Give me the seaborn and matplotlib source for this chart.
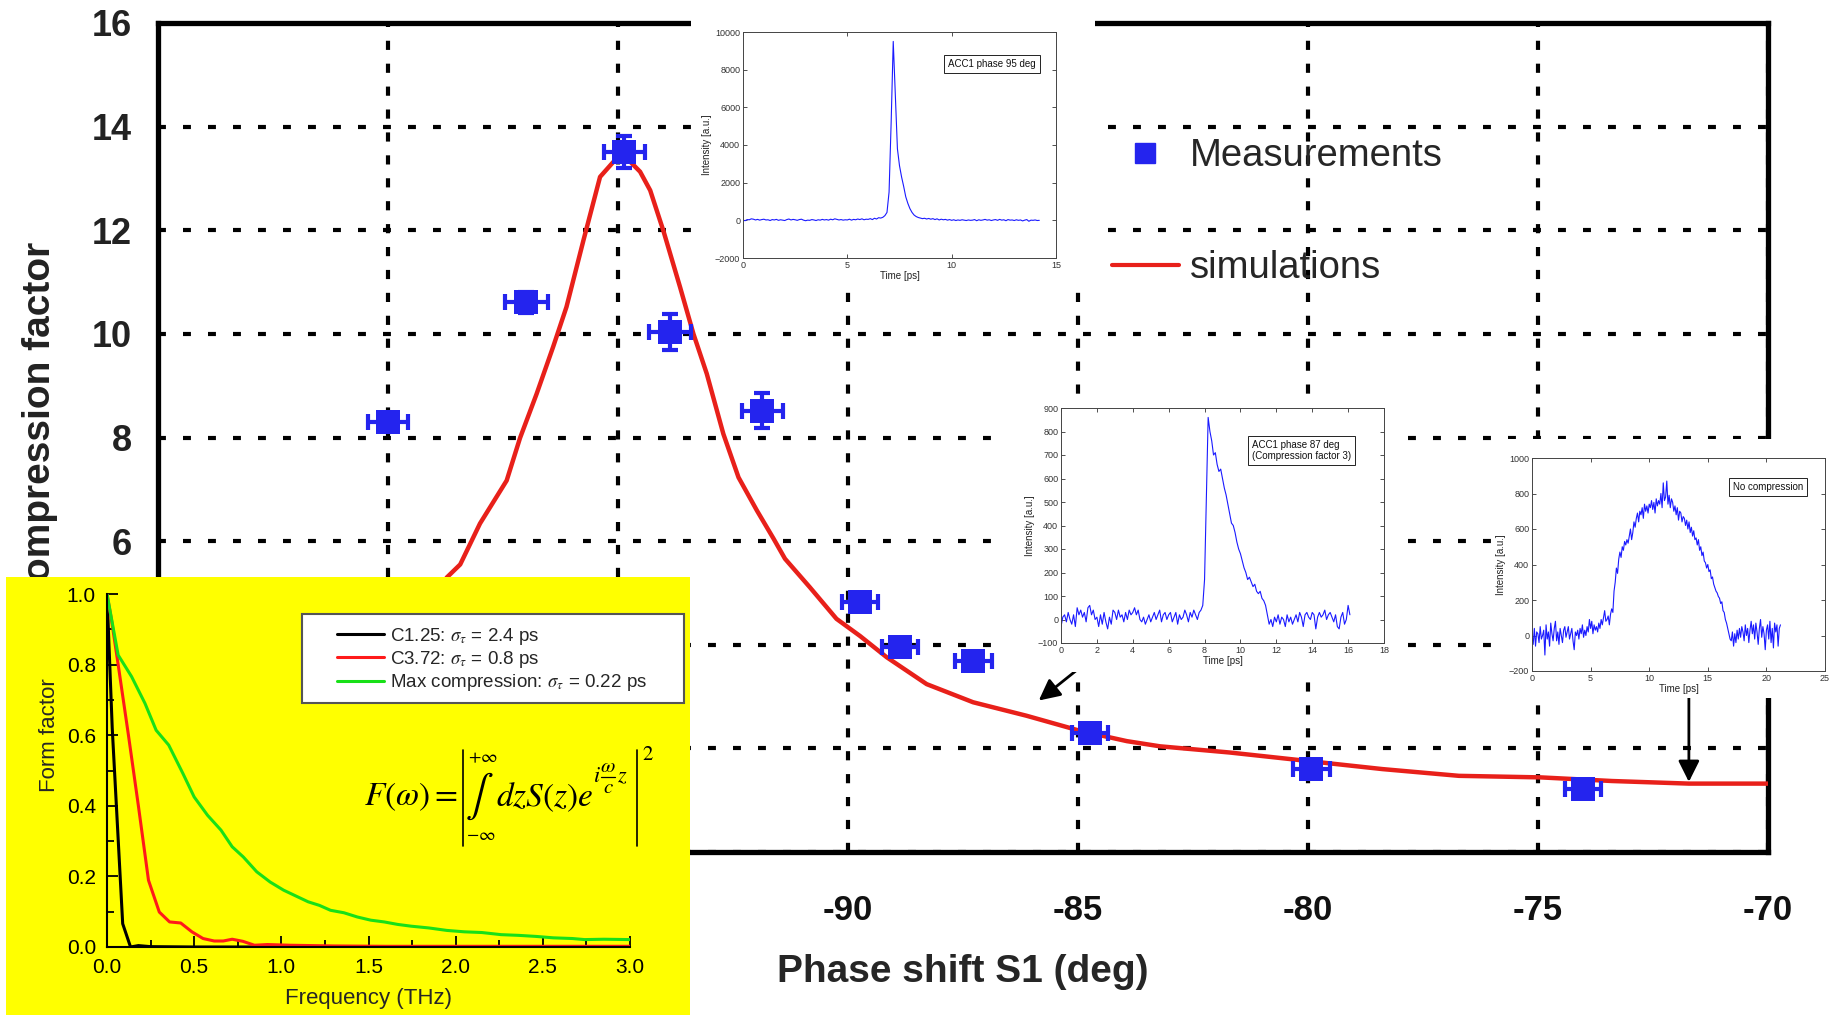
import matplotlib
matplotlib.use("Agg")
import matplotlib.pyplot as plt
from matplotlib.lines import Line2D
from matplotlib.patches import Rectangle
import numpy as np
import seaborn as sns

# ---- main chart: compression factor vs phase shift of S1 ----
meas_phase = [-100.0, -96.99, -94.86, -93.87, -91.86, -89.74, -88.87, -87.28, -84.74, -79.93, -74.02]
meas_cf = [8.30, 10.61, 13.51, 10.03, 8.52, 4.82, 3.95, 3.69, 2.29, 1.60, 1.21]
meas_xerr = [0.43, 0.47, 0.45, 0.45, 0.45, 0.40, 0.40, 0.40, 0.40, 0.40, 0.40]
meas_yerr = [0.15, 0.20, 0.30, 0.35, 0.34, 0.10, 0.10, 0.10, 0.10, 0.12, 0.12]

sim_phase = [-103.0, -100.5, -99.3, -98.72, -98.43, -98.0, -97.42, -97.13, -96.77, -96.41,
             -96.12, -95.75, -95.39, -95.10, -94.81, -94.52, -94.30, -94.01, -93.65, -93.36,
             -93.07, -92.71, -92.38, -91.98, -91.62, -91.37, -90.83, -90.25, -89.74, -89.16,
             -88.29, -87.28, -86.12, -84.96, -83.94, -83.22, -81.70, -80.04, -78.38, -76.72,
             -74.94, -73.39, -71.72, -70.0]
sim_cf = [1.8, 3.3, 4.5, 5.30, 5.55, 6.34, 7.17, 7.99, 8.84, 9.75,
          10.52, 11.81, 13.03, 13.32, 13.39, 13.13, 12.77, 11.98, 10.90, 10.0,
          9.23, 8.07, 7.23, 6.59, 6.05, 5.66, 5.11, 4.50, 4.17, 3.76,
          3.24, 2.89, 2.63, 2.34, 2.14, 2.04, 1.92, 1.76, 1.60, 1.47,
          1.44, 1.37, 1.32, 1.32]

x_ticks = [-100, -95, -90, -85, -80, -75, -70]
y_ticks = [0, 2, 4, 6, 8, 10, 12, 14, 16]

# ---- form factor inset ----
ff_black_f = [0.0, 0.03, 0.09, 0.135, 0.18, 0.25, 0.5, 1.0, 2.0, 3.0]
ff_black = [1.0, 0.62, 0.066, 0.0, 0.004, 0.001, 0.0, 0.0, 0.0, 0.0]
ff_red_f = [0.0, 0.026, 0.064, 0.123, 0.18, 0.238, 0.30, 0.359, 0.423, 0.487, 0.551, 0.615,
            0.667, 0.718, 0.78, 0.846, 0.92, 1.05, 1.3, 1.6, 2.0, 2.5, 3.0]
ff_red = [1.0, 0.926, 0.80, 0.60, 0.40, 0.189, 0.099, 0.071, 0.068, 0.043, 0.024, 0.017,
          0.017, 0.022, 0.016, 0.005, 0.007, 0.005, 0.003, 0.002, 0.002, 0.002, 0.002]
ff_green_f = [0.0, 0.064, 0.141, 0.218, 0.282, 0.354, 0.436, 0.5, 0.577, 0.654, 0.718, 0.782,
              0.859, 0.936, 1.013, 1.077, 1.154, 1.218, 1.282, 1.359, 1.436, 1.513, 1.59,
              1.667, 1.744, 1.846, 1.949, 2.05, 2.15, 2.26, 2.36, 2.46, 2.56, 2.67, 2.74,
              2.85, 3.0]
ff_green = [1.0, 0.827, 0.766, 0.69, 0.614, 0.572, 0.491, 0.425, 0.373, 0.331, 0.284, 0.255,
            0.213, 0.184, 0.161, 0.146, 0.128, 0.118, 0.104, 0.097, 0.085, 0.076, 0.071,
            0.064, 0.059, 0.054, 0.047, 0.043, 0.041, 0.035, 0.033, 0.030, 0.026, 0.024, 0.021,
            0.022, 0.021]
ff_labels = [r"C1.25: $\sigma_\tau$ = 2.4 ps",
             r"C3.72: $\sigma_\tau$ = 0.8 ps",
             r"Max compression: $\sigma_\tau$ = 0.22 ps"]

# ---- streak camera profiles (sampled every 0.1 ps) ----
pulse95 = [10, -20, 40, 30, 80, 60, 20, 50, 10, 40,
           60, 20, 30, -10, 40, 20, 50, 0, 30, 10,
           -10, 40, 70, 20, 50, 30, 0, 40, 60, 10,
           -20, 10, 0, 40, 20, -10, 30, 10, 50, 20,
           40, 10, 60, 30, 80, 50, 20, 40, 10, 30,
           20, 60, 10, 50, 30, 70, 40, 80, 30, 60,
           50, 90, 40, 110, 70, 140, 120, 160, 250, 420,
           1500, 5200, 9500, 6600, 3800, 2900, 2300, 1800, 1250, 900,
           620, 420, 280, 200, 150, 120, 90, 110, 70, 100,
           60, 90, 40, 80, 20, 60, 30, 50, 10, 40,
           0, 30, -10, 20, 0, 30, 10, -10, 20, 0,
           10, 40, -20, 30, 0, 20, 50, 10, 30, -10,
           20, 40, 0, 50, 10, 30, -20, 40, 10, 20,
           -10, 30, 0, 20, -30, 10, 40, -50, 10, 0,
           20, -10, 0]
pulse87 = [-30, 10, 20, -10, 30, 0, -20, 20, -30, 50,
           20, 40, 10, 30, -10, 50, 60, 20, 40, 0,
           10, -30, 20, -20, 30, -10, -40, 10, -20, 40,
           30, 0, 40, 10, 20, -10, 30, 0, 40, 20,
           30, 50, 20, 40, 0, -10, 10, -20, 0, 20,
           -10, 10, 30, 0, 20, 40, -10, 20, 30, 0,
           20, 30, -10, 10, 30, -20, 20, 0, 10, 40,
           20, -10, 30, 10, 40, 20, 0, 30, 40, 60,
           170, 520, 860, 800, 760, 700, 710, 660, 630, 640,
           600, 560, 530, 490, 450, 410, 400, 370, 330, 300,
           280, 250, 220, 200, 170, 180, 160, 140, 150, 120,
           110, 120, 90, 80, 60, 20, -20, 0, -30, 10,
           -10, 20, -20, 10, 0, -30, 20, -10, 10, -20,
           0, 20, -10, 30, 10, -30, 20, 30, 10, 0,
           30, 20, -40, 10, 30, 10, 20, 40, 0, 20,
           30, 10, -10, 20, -30, -40, 10, 30, -20, 0,
           60, 20]
pulse_nocomp = [-10, -50, 40, -60, 20, 10, -40, 50, -20, 0,
                30, -110, 60, -20, 20, -60, 70, 10, -30, 40,
                80, -30, 20, -50, 40, 0, -40, 30, 50, -10,
                20, 50, -20, 10, 40, -30, -80, 20, 0, 30,
                -20, 40, 10, 60, -10, 30, 0, 50, 20, 90,
                40, 80, 10, 60, 30, 50, 20, 70, 40, 90,
                60, 100, 140, 80, 90, 110, 60, 120, 150, 130,
                250, 300, 380, 350, 430, 470, 440, 500, 480, 530,
                510, 540, 520, 560, 600, 540, 580, 640, 610, 660,
                690, 640, 700, 680, 720, 660, 740, 700, 730, 690,
                740, 720, 760, 710, 750, 690, 770, 730, 760, 740,
                800, 720, 860, 760, 780, 870, 740, 790, 720, 770,
                750, 700, 730, 680, 720, 650, 700, 690, 640, 670,
                660, 620, 650, 600, 640, 580, 610, 560, 590, 540,
                550, 510, 540, 480, 500, 450, 470, 420, 410, 380,
                400, 360, 370, 320, 330, 290, 270, 250, 240, 220,
                210, 180, 190, 140, 130, 90, 70, 40, 10, -20,
                -30, 20, -60, 10, -40, 30, -20, 40, -10, 50,
                20, -30, 60, 0, 40, -40, 30, 80, 10, 60,
                -20, 70, 20, -50, 40, 90, -10, 50, 10, -80,
                30, 60, -20, 80, -40, 40, -70, 70, 20, 60,
                -60, 40, 60]

BLUE = "#2424ee"
RED = "#e8201a"

sns.set_theme(style="white")
plt.rcParams["font.family"] = ["Liberation Sans", "DejaVu Sans"]
plt.rcParams["mathtext.fontset"] = "stix"

W, H = 1836, 1015
fig = plt.figure(figsize=(W / 100, H / 100), dpi=100)
fig.patch.set_facecolor("white")


def fr(x0, y0, x1, y1):
    # pixel box (top-left origin) -> figure fraction rect
    return [x0 / W, 1 - y1 / H, (x1 - x0) / W, (y1 - y0) / H]


def fp(x, y):
    return x / W, 1 - y / H


# ---------------- main axes ----------------
ax = fig.add_axes(fr(158, 23, 1768, 852), zorder=0)
sns.lineplot(x=sim_phase, y=sim_cf, ax=ax, color=RED, lw=3.2, zorder=3)
ax.errorbar(meas_phase, meas_cf, xerr=meas_xerr, yerr=meas_yerr, fmt="none",
            ecolor=BLUE, elinewidth=3, capsize=6, capthick=3, zorder=4)
sns.scatterplot(x=meas_phase, y=meas_cf, ax=ax, marker="s", s=300, color=BLUE,
                edgecolor=BLUE, linewidth=0, zorder=5)

ax.set_xlim(-105, -70)
ax.set_ylim(0, 16)
ax.set_xticks(x_ticks)
ax.set_yticks(y_ticks)
ax.set_xticklabels([str(v) for v in x_ticks], fontsize=25, fontweight="bold",
                   color="#111111")
ax.set_yticklabels([str(v) for v in y_ticks], fontsize=26, fontweight="bold",
                   color="#222222")
ax.tick_params(axis="x", length=0, pad=30)
ax.tick_params(axis="y", length=0, pad=19)
ax.xaxis.grid(True, color="black", lw=3, linestyle=(0, (2.2, 3.3)))
ax.yaxis.grid(True, color="black", lw=3, linestyle=(0, (1.9, 4.1)))
for s in ax.spines.values():
    s.set_visible(True)
    s.set_color("black")
    s.set_linewidth(3.8)
ax.set_xlabel("Phase shift S1 (deg)", fontsize=28, fontweight="bold", labelpad=20)
ax.set_ylabel("")

# arrows pointing at the profiles' operating points
ax.annotate("", xy=(-85.90, 2.89), xytext=(-84.9, 3.6),
            arrowprops=dict(arrowstyle="-|>", color="black", lw=2, mutation_scale=32))
ax.annotate("", xy=(-71.72, 1.30), xytext=(-71.72, 3.2),
            arrowprops=dict(arrowstyle="-|>", color="black", lw=2, mutation_scale=32))

fig.text(*fp(40, 425), "Compression factor", rotation=90, ha="center",
         va="center", fontsize=28, fontweight="bold", color="#222222", zorder=0.5)

handles = [Line2D([], [], ls="none", marker="s", ms=15, color=BLUE),
           Line2D([], [], color=RED, lw=3)]
fig.legend(handles, ["Measurements", "simulations"], loc="upper left",
           bbox_to_anchor=fp(1112, 138), frameon=False, fontsize=27.5,
           handlelength=1.75, handletextpad=0.3, labelspacing=2.0,
           borderpad=0, borderaxespad=0)

# white backgrounds behind the profile insets, yellow behind form factor
for box, col in [((691, 0, 1095, 290), "white"), ((1008, 398, 1393, 672), "white"),
                 ((1493, 439, 1836, 698), "white"), ((6, 577, 690, 1015), "#ffff00")]:
    r = fr(*box)
    fig.add_artist(Rectangle((r[0], r[1]), r[2], r[3], transform=fig.transFigure,
                             facecolor=col, edgecolor="none", zorder=1))


# ---------------- profile insets ----------------
def pulse_inset(box, y, xlim, ylim, xticks, yticks, note, note_xy):
    a = fig.add_axes(fr(*box), zorder=3)
    t = np.round(np.arange(len(y)) * 0.1, 1)
    sns.lineplot(x=t, y=y, ax=a, color="#1a1aff", lw=0.8, estimator=None, sort=False)
    a.set_xlim(*xlim)
    a.set_ylim(*ylim)
    a.set_xticks(xticks)
    a.set_yticks(yticks)
    a.tick_params(labelsize=6.5, direction="in", length=3, width=0.6, pad=2,
                  top=True, right=True, bottom=True, left=True, colors="#333333")
    a.set_facecolor("white")
    for s in a.spines.values():
        s.set_color("#444444")
        s.set_linewidth(0.7)
    a.set_xlabel("Time [ps]", fontsize=7, labelpad=1, color="#222222")
    a.set_ylabel("Intensity [a.u.]", fontsize=7, labelpad=2, color="#222222")
    a.text(note_xy[0], note_xy[1], note, transform=a.transAxes, fontsize=7,
           va="center", ha="left", color="#111111",
           bbox=dict(boxstyle="square,pad=0.4", facecolor="white",
                     edgecolor="#222222", lw=0.7))
    return a


pulse_inset((743, 32, 1056, 258), pulse95, (0, 15), (-2000, 10000),
            [0, 5, 10, 15], list(range(-2000, 10001, 2000)),
            "ACC1 phase 95 deg", (0.655, 0.86))
pulse_inset((1061, 408, 1384, 643), pulse87, (0, 18), (-100, 900),
            list(range(0, 19, 2)), list(range(-100, 901, 100)),
            "ACC1 phase 87 deg\n(Compression factor 3)", (0.59, 0.82))
pulse_inset((1532, 458, 1825, 671), pulse_nocomp, (0, 25), (-200, 1000),
            [0, 5, 10, 15, 20, 25], list(range(-200, 1001, 200)),
            "No compression", (0.685, 0.865))

# ---------------- form factor inset ----------------
af = fig.add_axes(fr(107, 594, 630, 947), zorder=3)
af.set_facecolor("none")
sns.lineplot(x=ff_black_f, y=ff_black, ax=af, color="black", lw=2.2,
             estimator=None, sort=False, label=ff_labels[0], legend=False)
sns.lineplot(x=ff_red_f, y=ff_red, ax=af, color="#ff1a1a", lw=2.2,
             estimator=None, sort=False, label=ff_labels[1], legend=False)
sns.lineplot(x=ff_green_f, y=ff_green, ax=af, color="#18e018", lw=2.2,
             estimator=None, sort=False, label=ff_labels[2], legend=False)
af.set_xlim(0, 3)
af.set_ylim(0, 1)
af.set_xticks([0, 0.5, 1.0, 1.5, 2.0, 2.5, 3.0])
af.set_yticks([0, 0.2, 0.4, 0.6, 0.8, 1.0])
af.set_xticks(np.round(np.arange(0, 3.01, 0.25), 2), minor=True)
af.set_yticks(np.round(np.arange(0, 1.01, 0.1), 1), minor=True)
af.set_xticklabels(["0.0", "0.5", "1.0", "1.5", "2.0", "2.5", "3.0"])
af.set_yticklabels(["0.0", "0.2", "0.4", "0.6", "0.8", "1.0"])
af.tick_params(which="both", direction="in", colors="black", labelsize=15,
               bottom=True, left=True, width=1.3)
af.tick_params(which="major", length=8, pad=8)
af.tick_params(which="minor", length=5)
for k in ["top", "right"]:
    af.spines[k].set_visible(False)
for k in ["left", "bottom"]:
    af.spines[k].set_color("black")
    af.spines[k].set_linewidth(1.5)
af.set_xlabel("Frequency (THz)", fontsize=16)
af.set_ylabel("Form factor", fontsize=16)
af.xaxis.set_label_coords(0.5, -0.115)
af.yaxis.set_label_coords(-0.09, 0.6)

af.add_patch(Rectangle((0.373, 0.691), 0.731, 0.252, transform=af.transAxes,
                       facecolor="white", edgecolor="#555555", lw=1.5,
                       clip_on=False, zorder=4))
leg = af.legend(loc="upper left", bbox_to_anchor=(0.44, 0.91), frameon=False,
                prop={"size": 13.5}, handlelength=2.5,
                handletextpad=0.3, labelspacing=0.12, borderpad=0, borderaxespad=0)
leg.set_zorder(5)

# form factor definition, set piece by piece so the integral is display size
fkw = dict(color="black", zorder=6, va="center")
fig.text(*fp(364, 797), r"$F\left(\omega\right)=$", fontsize=24, ha="left", **fkw)
fig.text(*fp(479, 796), r"$\int$", fontsize=30, ha="center", **fkw)
fig.text(*fp(483, 758), r"$+\infty$", fontsize=13, ha="center", **fkw)
fig.text(*fp(481, 836), r"$-\infty$", fontsize=13, ha="center", **fkw)
fig.text(*fp(496, 797), r"$dzS\left(z\right)e$", fontsize=24, ha="left", **fkw)
fig.text(*fp(593, 776), r"$i$", fontsize=16, ha="left", **fkw)
fig.text(*fp(608, 776), r"$\omega$", fontsize=15, ha="center", va="bottom",
         color="black", zorder=6)
fig.add_artist(Line2D([601 / W, 615 / W], [1 - 777 / H, 1 - 777 / H],
                      transform=fig.transFigure, color="black", lw=0.9, zorder=6))
fig.text(*fp(608, 778), r"$c$", fontsize=15, ha="center", va="top",
         color="black", zorder=6)
fig.text(*fp(617, 777), r"$z$", fontsize=16, ha="left", **fkw)
fig.text(*fp(648, 754), r"$2$", fontsize=15, ha="center", **fkw)
for bx in [463, 637]:
    fig.add_artist(Line2D([bx / W, bx / W], [1 - 750 / H, 1 - 846 / H],
                          transform=fig.transFigure, color="black", lw=1.2, zorder=6))

fig.savefig("out.png", dpi=100, facecolor="white")
